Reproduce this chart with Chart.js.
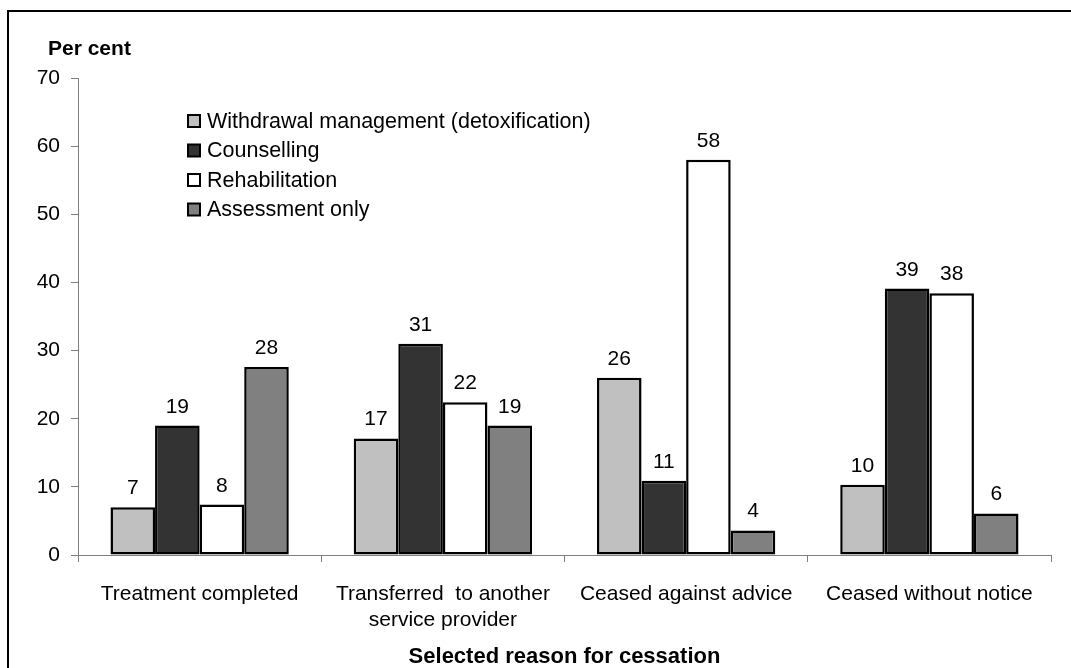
<!DOCTYPE html>
<html>
<head>
<meta charset="utf-8">
<script src="https://cdn.jsdelivr.net/npm/chart.js@4"></script>
<style>
  html, body { margin: 0; padding: 0; background: #fff; }
  #wrap { width: 1071px; height: 668px; }
</style>
</head>
<body>
<div id="wrap"><canvas id="chart" width="1071" height="668"></canvas></div>
<script>
// Values
const categories = [
    ['Treatment completed'],
    ['Transferred  to another', 'service provider'],
    ['Ceased against advice'],
    ['Ceased without notice']
];
const seriesNames = ['Withdrawal management (detoxification)', 'Counselling', 'Rehabilitation', 'Assessment only'];
const withdrawal = [7.0, 17.1, 26.0, 10.3];
const counselling = [19.0, 31.0, 10.9, 39.1];
const rehabilitation = [7.4, 22.4, 58.0, 38.4];
const assessment = [27.6, 19.0, 3.6, 6.1];
// Printed value labels
const withdrawalLabels = [7, 17, 26, 10];
const counsellingLabels = [19, 31, 11, 39];
const rehabilitationLabels = [8, 22, 58, 38];
const assessmentLabels = [28, 19, 4, 6];
const yTicks = [0, 10, 20, 30, 40, 50, 60, 70];

const FONT = '"Liberation Sans", Arial, sans-serif';
const fills = ['#c0c0c0', '#333333', '#ffffff', '#808080'];
const allValues = [withdrawal, counselling, rehabilitation, assessment];
const allLabels = [withdrawalLabels, counsellingLabels, rehabilitationLabels, assessmentLabels];

// border, axis titles, legend and value labels
const decorPlugin = {
    id: 'decor',
    afterDatasetsDraw(chart) {
        const ctx = chart.ctx;
        ctx.save();
        ctx.fillStyle = '#000';
        ctx.font = '21px ' + FONT;
        ctx.textAlign = 'center';
        ctx.textBaseline = 'alphabetic';
        chart.data.datasets.forEach((ds, i) => {
            chart.getDatasetMeta(i).data.forEach((el, j) => {
                ctx.fillText(String(ds.valueLabels[j]), el.x, el.y - 13);
            });
        });
        ctx.restore();
    },
    afterDraw(chart) {
        const ctx = chart.ctx;
        const area = chart.chartArea;
        ctx.save();
        // frame (left + top only, the rest is cropped)
        ctx.strokeStyle = '#000';
        ctx.lineWidth = 2;
        ctx.beginPath();
        ctx.moveTo(8, 668);
        ctx.lineTo(8, 11);
        ctx.lineTo(1071, 11);
        ctx.stroke();

        ctx.fillStyle = '#000';
        ctx.font = 'bold 21px ' + FONT;
        ctx.textAlign = 'left';
        ctx.textBaseline = 'middle';
        ctx.fillText('Per cent', 48, 49);

        ctx.textAlign = 'center';
        ctx.font = 'bold 22px ' + FONT;
        ctx.fillText('Selected reason for cessation', (area.left + area.right) / 2, 657);

        // legend inside plot
        ctx.textAlign = 'left';
        ctx.font = '21.5px ' + FONT;
        chart.data.datasets.forEach((ds, i) => {
            const cy = 122 + i * 29.5;
            ctx.fillStyle = ds.backgroundColor;
            ctx.fillRect(188, cy - 7, 12, 12);
            ctx.lineWidth = 2;
            ctx.strokeStyle = '#000';
            ctx.strokeRect(188, cy - 7, 12, 12);
            ctx.fillStyle = '#000';
            ctx.fillText(ds.label, 207, cy);
        });
        ctx.restore();
    }
};

const chart = new Chart(document.getElementById('chart').getContext('2d'), {
    type: 'bar',
    data: {
        labels: categories,
        datasets: allValues.map((vals, i) => ({
            label: seriesNames[i],
            data: vals,
            valueLabels: allLabels[i],
            backgroundColor: fills[i],
            borderColor: '#000',
            borderWidth: 2.5,
            borderSkipped: false,
            categoryPercentage: 0.733,
            barPercentage: 1.0
        }))
    },
    options: {
        responsive: false,
        animation: false,
        layout: { padding: { left: 0, top: 78, right: 20, bottom: 0 } },
        plugins: {
            legend: { display: false },
            tooltip: { enabled: false }
        },
        scales: {
            x: {
                afterFit: (s) => { s.height = 113; },
                afterUpdate: (s) => { s.right = 1051; },
                grid: { drawOnChartArea: false, drawTicks: true, tickLength: 7, color: '#808080', offset: true },
                border: { display: true, color: '#808080', width: 1 },
                ticks: { color: '#000', font: { family: FONT, size: 21 }, padding: 20, maxRotation: 0, autoSkip: false }
            },
            y: {
                min: 0,
                max: 70,
                afterFit: (s) => { s.width = 78; },
                afterBuildTicks: (s) => { s.ticks = yTicks.map(v => ({ value: v })); },
                grid: { drawOnChartArea: false, drawTicks: true, tickLength: 7, color: '#808080' },
                border: { display: true, color: '#808080', width: 1 },
                ticks: { color: '#000', font: { family: FONT, size: 21 }, padding: 11 }
            }
        }
    },
    plugins: [decorPlugin]
});
</script>
</body>
</html>
